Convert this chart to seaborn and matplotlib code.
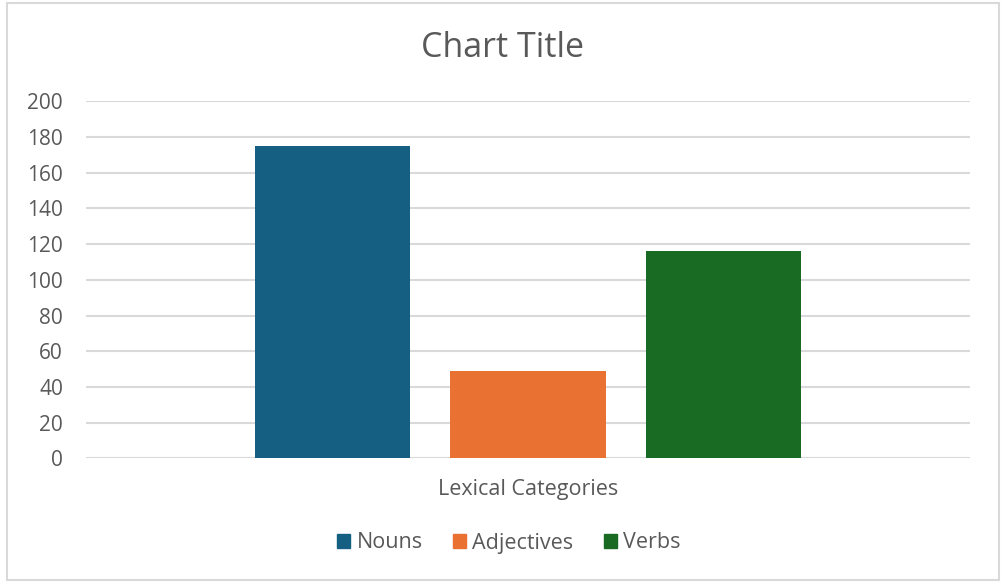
import matplotlib
matplotlib.use("Agg")
import matplotlib.pyplot as plt
import matplotlib.patches as mpatches
import seaborn as sns
import pandas as pd

categories = ["Lexical Categories"]
series = ["Nouns", "Adjectives", "Verbs"]
values = [175, 49, 116]
colors = ["#156082", "#E97132", "#196B24"]
y_ticks = [0, 20, 40, 60, 80, 100, 120, 140, 160, 180, 200]
title = "Chart Title"

df = pd.DataFrame({"category": categories * len(series), "series": series, "value": values})

sns.set_theme(style="white")
plt.rcParams['font.family'] = ['Open Sans', 'DejaVu Sans']
text_color = "#595959"
grid_color = "#D9D9D9"

fig = plt.figure(figsize=(10.04, 5.84), dpi=100)
W, H = 1004, 584
ax = fig.add_axes([86 / W, 1 - 458.3 / H, (970 - 86) / W, (458.3 - 101.3) / H])

sns.barplot(data=df, x="category", y="value", hue="series", palette=colors,
            hue_order=series, width=0.6, gap=0.207, dodge=True, ax=ax,
            legend=False, saturation=1)

ax.set_xlim(-0.452, 0.452)
ax.set_ylim(0, 200)
ax.set_yticks(y_ticks)
ax.set_yticklabels([str(t) for t in y_ticks], color=text_color, fontsize=15)
ax.tick_params(axis="y", length=0, pad=16.5)
ax.tick_params(axis="x", length=0)
ax.set_xticks([])
ax.set_xlabel("")
ax.set_ylabel("")
ax.yaxis.grid(True, color=grid_color, linewidth=1.5)
ax.set_axisbelow(True)
for s in ax.spines.values():
    s.set_visible(False)
for p in ax.patches:
    p.set_edgecolor("none")

fig.text(528 / W, 1 - 489 / H, categories[0], ha="center", va="center",
         color=text_color, fontsize=15.5)
fig.text(503 / W, 1 - 48 / H, title, ha="center", va="center",
         color=text_color, fontsize=24.5)

handles = [mpatches.Patch(color=c, label=s) for s, c in zip(series, colors)]
leg = fig.legend(handles=handles, loc="center", bbox_to_anchor=(509 / W, 1 - 543 / H),
                 ncol=3, frameon=False, fontsize=15.5, handlelength=0.6, handleheight=0.6,
                 handletextpad=0.3, columnspacing=1.4, labelcolor=text_color)

border = mpatches.Rectangle((7 / W, 1 - 580 / H), (999 - 7) / W, (580 - 3) / H,
                            transform=fig.transFigure, fill=False,
                            edgecolor=grid_color, linewidth=1.5)
fig.patches.append(border)

fig.savefig("out.png", dpi=100, facecolor="white")
